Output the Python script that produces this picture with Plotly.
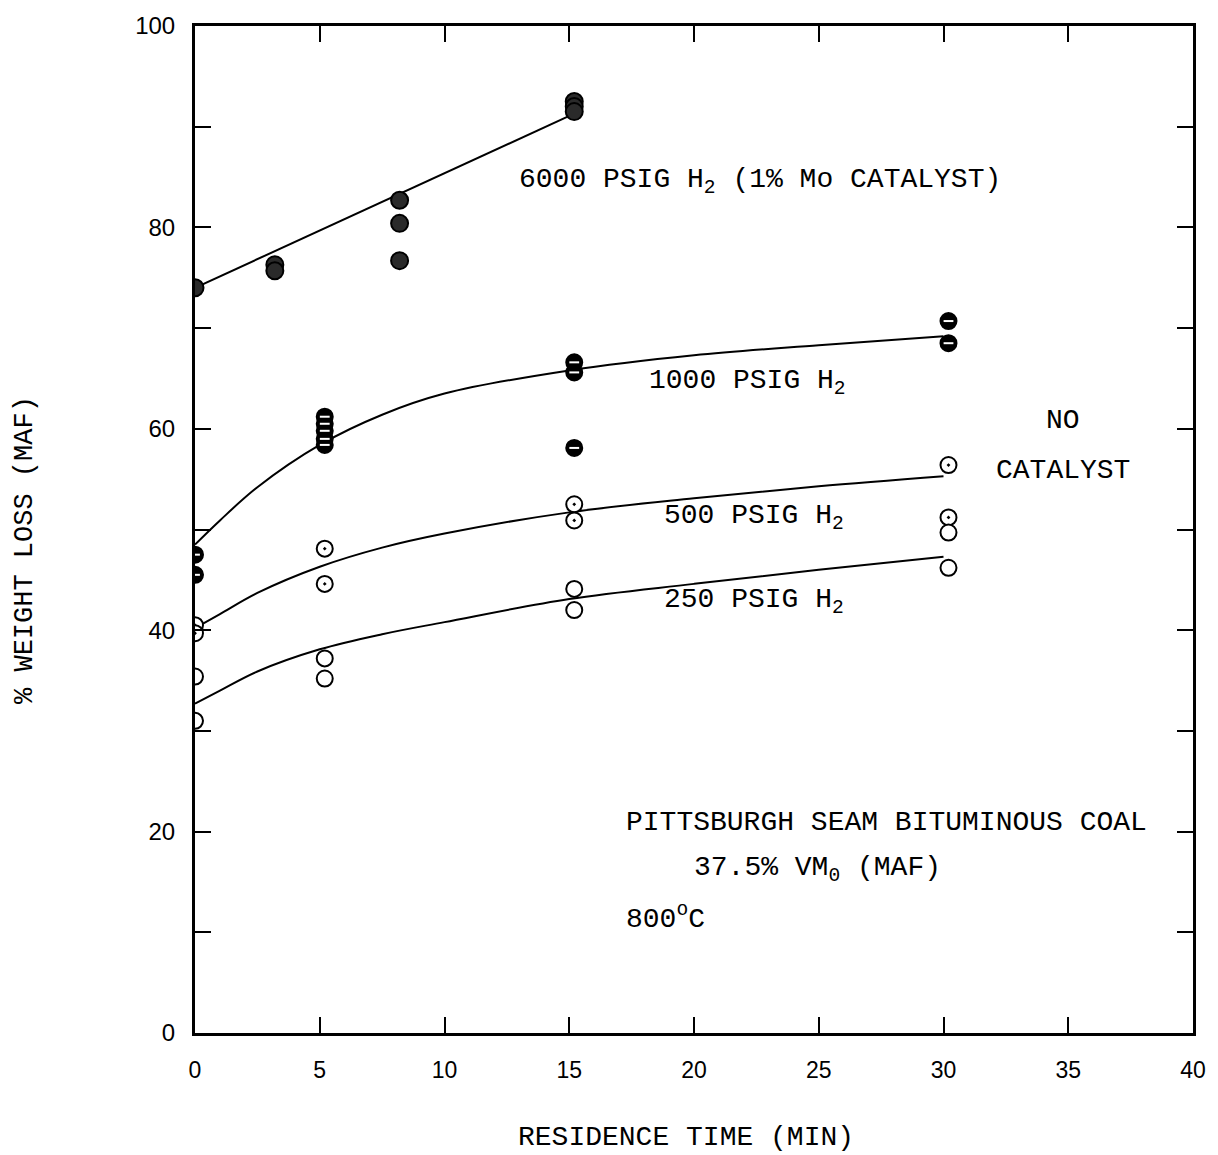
import plotly.graph_objects as go

# ---- data ----
t_6000 = [0, 3.2, 3.2, 8.2, 8.2, 8.2, 15.2, 15.2, 15.2]
w_6000 = [74.0, 76.3, 75.7, 82.7, 80.4, 76.7, 92.5, 92.0, 91.5]
fit6000_t = [0, 15.2]
fit6000_w = [74.0, 91.3]

t_1000 = [0, 0, 5.2, 5.2, 5.2, 5.2, 5.2, 15.2, 15.2, 15.2, 30.2, 30.2]
w_1000 = [47.5, 45.5, 61.2, 60.5, 59.8, 59.0, 58.4, 66.6, 65.6, 58.1, 70.7, 68.5]

t_500 = [0, 0, 5.2, 5.2, 15.2, 15.2, 30.2, 30.2]
w_500 = [40.5, 39.7, 48.1, 44.6, 52.5, 50.9, 56.4, 51.2]

t_250 = [0, 0, 5.2, 5.2, 15.2, 15.2, 30.2, 30.2]
w_250 = [35.4, 31.0, 37.2, 35.2, 44.1, 42.0, 49.7, 46.2]

curve_t = [0, 1, 2.5, 5, 7.5, 10, 15, 20, 25, 30]
curve1000_w = [48.5, 50.9, 54.2, 58.4, 61.4, 63.5, 65.8, 67.3, 68.3, 69.2]
curve500_w = [40.2, 41.6, 43.7, 46.3, 48.2, 49.6, 51.7, 53.1, 54.3, 55.3]
curve250_w = [32.7, 34.0, 35.9, 38.1, 39.6, 40.8, 43.1, 44.6, 46.0, 47.3]

x_ticks = [0, 5, 10, 15, 20, 25, 30, 35, 40]
y_ticks = [0, 10, 20, 30, 40, 50, 60, 70, 80, 90, 100]
y_labels = ["0", "", "20", "", "40", "", "60", "", "80", "", "100"]

MONO = "Liberation Mono"
SANS = "Liberation Sans"

fig = go.Figure()

# fitted lines
fig.add_trace(go.Scatter(x=fit6000_t, y=fit6000_w, mode="lines",
                         line=dict(color="black", width=2)))
for cw in (curve1000_w, curve500_w, curve250_w):
    fig.add_trace(go.Scatter(x=curve_t, y=cw, mode="lines",
                             line=dict(color="black", width=2, shape="spline", smoothing=1.0)))

# markers
fig.add_trace(go.Scatter(x=t_6000, y=w_6000, mode="markers",
                         marker=dict(symbol="circle", size=17, color="#2a2a2a",
                                     line=dict(color="black", width=2))))
fig.add_trace(go.Scatter(x=t_1000, y=w_1000, mode="markers",
                         marker=dict(symbol="circle", size=16, color="black",
                                     line=dict(color="black", width=2))))
fig.add_trace(go.Scatter(x=t_1000, y=w_1000, mode="markers",
                         marker=dict(symbol="line-ew", size=7,
                                     line=dict(color="white", width=2))))
fig.add_trace(go.Scatter(x=t_500, y=w_500, mode="markers",
                         marker=dict(symbol="circle-dot", size=16, color="white",
                                     line=dict(color="black", width=2))))
fig.add_trace(go.Scatter(x=t_250, y=w_250, mode="markers",
                         marker=dict(symbol="circle", size=16, color="white",
                                     line=dict(color="black", width=2))))

def ann(text, x, y, xanchor="left", size=28):
    fig.add_annotation(x=x, y=y, text=text, showarrow=False, xanchor=xanchor,
                       yanchor="middle", font=dict(family=MONO, size=size, color="black"))

ann("6000 PSIG H<sub>2</sub> (1% Mo CATALYST)", 12.9, 84.6)
ann("1000 PSIG H<sub>2</sub>", 18.1, 64.6)
ann("NO", 34.8, 60.8, xanchor="center")
ann("CATALYST", 34.8, 55.9, xanchor="center")
ann("500 PSIG H<sub>2</sub>", 18.7, 51.2)
ann("250 PSIG H<sub>2</sub>", 18.7, 42.9)
ann("PITTSBURGH SEAM BITUMINOUS COAL", 17.2, 20.9)
ann("37.5% VM<sub>0</sub> (MAF)", 19.9, 16.2)
ann("800<sup>o</sup>C", 17.2, 11.5)

# axis titles
fig.add_annotation(x=0.492, y=-0.104, xref="paper", yref="paper", text="RESIDENCE TIME (MIN)",
                   showarrow=False, xanchor="center", yanchor="middle",
                   font=dict(family=MONO, size=28, color="black"))
fig.add_annotation(x=-0.171, y=0.48, xref="paper", yref="paper",
                   text="% WEIGHT LOSS (MAF)", showarrow=False, textangle=-90,
                   xanchor="center", yanchor="middle",
                   font=dict(family=MONO, size=27, color="black"))

axis_common = dict(showline=True, linecolor="black", linewidth=3, mirror="ticks",
                   ticks="inside", tickcolor="black", tickwidth=2, ticklen=16,
                   showgrid=False, zeroline=False)

fig.update_layout(
    width=1218, height=1155,
    margin=dict(l=195, r=18, t=22, b=122),
    paper_bgcolor="white", plot_bgcolor="white",
    showlegend=False,
    xaxis=dict(range=[0, 40], tickvals=x_ticks, ticktext=[str(v) for v in x_ticks],
               tickfont=dict(family=SANS, size=23, color="black"),
               ticklabelstandoff=14,
               **axis_common),
    yaxis=dict(range=[0, 100], tickvals=y_ticks, ticktext=y_labels,
               tickfont=dict(family=SANS, size=24, color="black"),
               ticklabelstandoff=12,
               **axis_common),
)

fig.write_html("out.html")
